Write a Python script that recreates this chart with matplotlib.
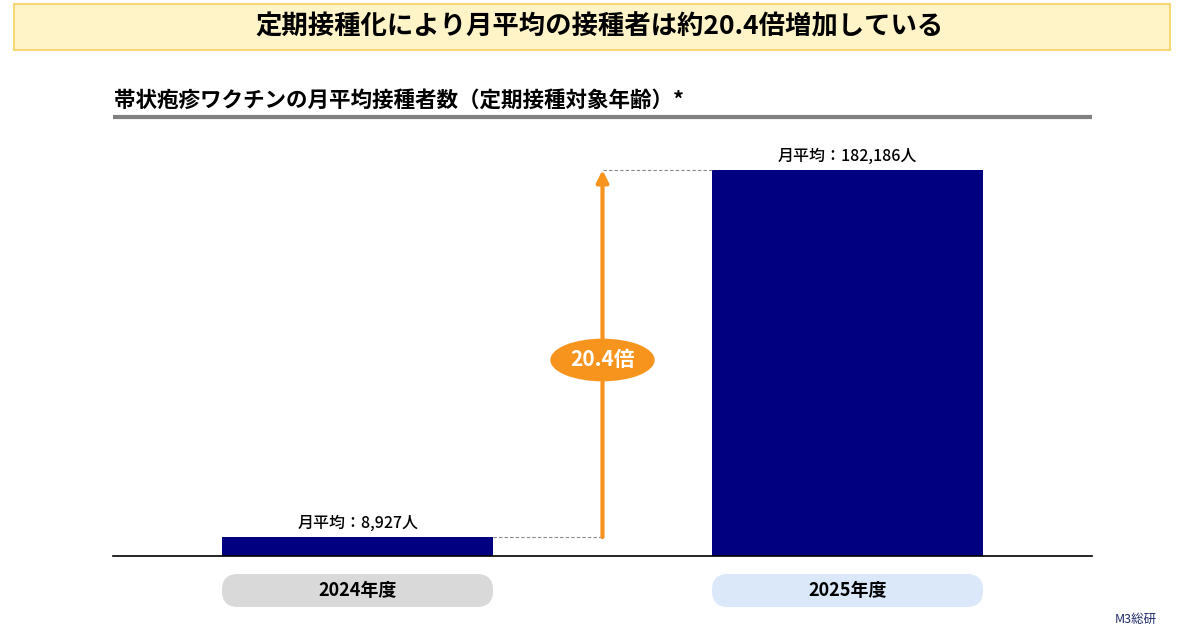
import matplotlib.pyplot as plt
from matplotlib.patches import FancyBboxPatch, Rectangle

plt.rcParams['font.family'] = ['Noto Sans CJK JP', 'DejaVu Sans']

# data
years = ['2024年度', '2025年度']
monthly_avg = [8927, 182186]
ratio = 20.4

title = '定期接種化により月平均の接種者は約20.4倍増加している'
subtitle = '帯状疱疹ワクチンの月平均接種者数（定期接種対象年齢）*'

navy = '#000080'
orange = '#f7941d'
pill_colors = ['#d9d9d9', '#dae8fa']

fig = plt.figure(figsize=(12, 6.3), dpi=100)

# overlay in pixel coordinates for the decorations
deco = fig.add_axes([0, 0, 1, 1])
deco.set_xlim(0, 1200)
deco.set_ylim(630, 0)
deco.axis('off')

deco.add_patch(Rectangle((14, 4), 1156, 46, facecolor='#fff3c8', edgecolor='#f6d878', lw=1.5))
deco.text(600, 27, title, ha='center', va='center', fontsize=19, fontweight='bold')

deco.text(114, 100, subtitle, ha='left', va='center', fontsize=15.5, fontweight='bold')
deco.plot([113, 1092], [117, 117], color='#808080', lw=3, solid_capstyle='butt')

# main chart
y_top = 182186 * (556 - 140) / (556 - 170)
ax = fig.add_axes([113 / 1200, (630 - 556) / 630, 979 / 1200, (556 - 140) / 630])
ax.set_xlim(-0.5, 1.5)
ax.set_ylim(0, y_top)
x = range(len(years))
ax.bar(x, monthly_avg, width=0.553, color=navy)
for i, v in zip(x, monthly_avg):
    ax.text(i, v + y_top * 0.012, f'月平均：{v:,}人', ha='center', va='bottom',
            fontsize=11.5, fontweight='medium')

# connectors and arrow
ax.plot([0 + 0.553 / 2, 0.5], [monthly_avg[0]] * 2, color='#888888', lw=0.8, ls=(0, (3, 2)))
ax.plot([0.5, 1 - 0.553 / 2], [monthly_avg[1]] * 2, color='#888888', lw=0.8, ls=(0, (3, 2)))
ax.annotate('', xy=(0.5, monthly_avg[1]), xytext=(0.5, monthly_avg[0]),
            arrowprops=dict(arrowstyle='-|>,head_width=0.35,head_length=0.7',
                            color=orange, lw=3, shrinkA=0, shrinkB=0))
mid = (556 - 360) / (556 - 140) * y_top
ax.text(0.5, mid, f'{ratio}倍', ha='center', va='center', fontsize=15, fontweight='bold',
        color='white', bbox=dict(boxstyle='ellipse,pad=0.22', fc=orange, ec='none'))

for s in ['top', 'right', 'left']:
    ax.spines[s].set_visible(False)
ax.spines['bottom'].set_linewidth(1.2)
ax.set_xticks([])
ax.set_yticks([])

# category pills
for i, (lab, c) in enumerate(zip(years, pill_colors)):
    x0 = 222 + i * 490
    deco.add_patch(FancyBboxPatch((x0, 574), 271, 33,
                                  boxstyle='round,pad=0,rounding_size=16', fc=c, ec='none'))
    deco.text(x0 + 135.5, 591, lab, ha='center', va='center', fontsize=13, fontweight='bold')

deco.text(1115, 626, 'M3総研', ha='left', va='bottom', fontsize=9, color='#1f2a6b')

fig.savefig('out.png', dpi=100)
